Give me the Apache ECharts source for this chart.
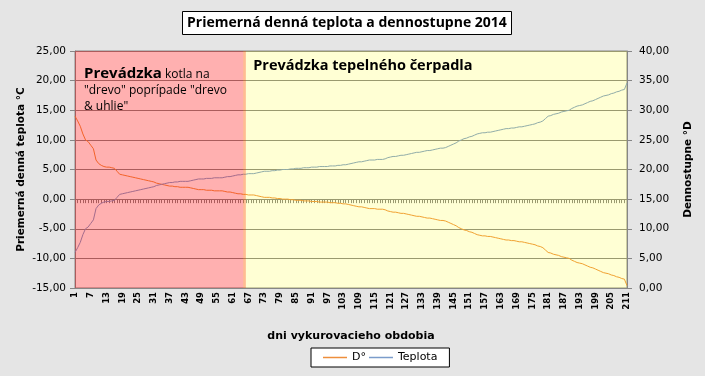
<!DOCTYPE html>
<html>
<head>
<meta charset="utf-8">
<script src="https://cdn.jsdelivr.net/npm/echarts@6/dist/echarts.min.js"></script>
<style>
  html, body { margin: 0; padding: 0; background: #e5e5e5; }
  #chart { width: 705px; height: 376px; }
</style>
</head>
<body>
<div id="chart"></div>
<script>
// dni vykurovacieho obdobia 1..211
const days = Array.from({ length: 211 }, (_, i) => String(i + 1));

// priemerna denna teplota (zoradena), lava os
const teplota = [
  -9.0, -8.2, -7.3, -6.0, -5.0, -4.7, -4.1, -3.5, -1.6, -1.0,
  -0.7, -0.5, -0.4, -0.4, -0.3, -0.2, 0.3, 0.8, 0.9, 1.0,
  1.1, 1.2, 1.3, 1.4, 1.5, 1.6, 1.7, 1.8, 1.9, 2.0,
  2.1, 2.3, 2.4, 2.5, 2.6, 2.7, 2.8, 2.8, 2.9, 2.9,
  3.0, 3.0, 3.0, 3.0, 3.1, 3.2, 3.3, 3.4, 3.4, 3.4,
  3.5, 3.5, 3.5, 3.6, 3.6, 3.6, 3.6, 3.7, 3.8, 3.8,
  3.9, 4.0, 4.1, 4.1, 4.2, 4.2, 4.3, 4.3, 4.3, 4.4,
  4.5, 4.6, 4.7, 4.7, 4.7, 4.8, 4.8, 4.9, 4.9, 5.0,
  5.0, 5.0, 5.1, 5.1, 5.2, 5.2, 5.2, 5.3, 5.3, 5.3,
  5.4, 5.4, 5.4, 5.5, 5.5, 5.5, 5.5, 5.6, 5.6, 5.6,
  5.7, 5.7, 5.8, 5.8, 5.9, 6.0, 6.1, 6.2, 6.3, 6.3,
  6.4, 6.5, 6.6, 6.6, 6.6, 6.7, 6.7, 6.7, 6.8, 7.0,
  7.1, 7.2, 7.2, 7.3, 7.4, 7.4, 7.5, 7.6, 7.7, 7.8,
  7.9, 7.9, 8.0, 8.1, 8.2, 8.2, 8.3, 8.4, 8.5, 8.6,
  8.6, 8.7, 8.9, 9.1, 9.3, 9.5, 9.8, 10.0, 10.2, 10.3,
  10.5, 10.6, 10.8, 11.0, 11.1, 11.2, 11.2, 11.3, 11.3, 11.4,
  11.5, 11.6, 11.7, 11.8, 11.9, 11.9, 12.0, 12.0, 12.1, 12.2,
  12.2, 12.3, 12.4, 12.5, 12.6, 12.7, 12.9, 13.0, 13.2, 13.6,
  14.0, 14.1, 14.3, 14.4, 14.5, 14.7, 14.8, 14.9, 15.0, 15.3,
  15.5, 15.7, 15.8, 15.9, 16.1, 16.3, 16.5, 16.6, 16.8, 17.0,
  17.2, 17.4, 17.5, 17.6, 17.8, 17.9, 18.1, 18.2, 18.4, 18.5,
  19.6
];

// dennostupne, prava os
const dennostupne = [
  29.0, 28.2, 27.3, 26.0, 25.0, 24.7, 24.1, 23.5, 21.6, 21.0,
  20.7, 20.5, 20.4, 20.4, 20.3, 20.2, 19.7, 19.2, 19.1, 19.0,
  18.9, 18.8, 18.7, 18.6, 18.5, 18.4, 18.3, 18.2, 18.1, 18.0,
  17.9, 17.7, 17.6, 17.5, 17.4, 17.3, 17.2, 17.2, 17.1, 17.1,
  17.0, 17.0, 17.0, 17.0, 16.9, 16.8, 16.7, 16.6, 16.6, 16.6,
  16.5, 16.5, 16.5, 16.4, 16.4, 16.4, 16.4, 16.3, 16.2, 16.2,
  16.1, 16.0, 15.9, 15.9, 15.8, 15.8, 15.7, 15.7, 15.7, 15.6,
  15.5, 15.4, 15.3, 15.3, 15.3, 15.2, 15.2, 15.1, 15.1, 15.0,
  15.0, 15.0, 14.9, 14.9, 14.8, 14.8, 14.8, 14.7, 14.7, 14.7,
  14.6, 14.6, 14.6, 14.5, 14.5, 14.5, 14.5, 14.4, 14.4, 14.4,
  14.3, 14.3, 14.2, 14.2, 14.1, 14.0, 13.9, 13.8, 13.7, 13.7,
  13.6, 13.5, 13.4, 13.4, 13.4, 13.3, 13.3, 13.3, 13.2, 13.0,
  12.9, 12.8, 12.8, 12.7, 12.6, 12.6, 12.5, 12.4, 12.3, 12.2,
  12.1, 12.1, 12.0, 11.9, 11.8, 11.8, 11.7, 11.6, 11.5, 11.4,
  11.4, 11.3, 11.1, 10.9, 10.7, 10.5, 10.2, 10.0, 9.8, 9.7,
  9.5, 9.4, 9.2, 9.0, 8.9, 8.8, 8.8, 8.7, 8.7, 8.6,
  8.5, 8.4, 8.3, 8.2, 8.1, 8.1, 8.0, 8.0, 7.9, 7.8,
  7.8, 7.7, 7.6, 7.5, 7.4, 7.3, 7.1, 7.0, 6.8, 6.4,
  6.0, 5.9, 5.7, 5.6, 5.5, 5.3, 5.2, 5.1, 5.0, 4.7,
  4.5, 4.3, 4.2, 4.1, 3.9, 3.7, 3.5, 3.4, 3.2, 3.0,
  2.8, 2.6, 2.5, 2.4, 2.2, 2.1, 1.9, 1.8, 1.6, 1.5,
  0.4
];

// obdobia prevadzky (od dna / do dna)
const kotol = ['1', '66'];
const cerpadlo = ['65', '211'];
const tMin = -15, tMax = 25;

const fmt = v => v.toFixed(2).replace('.', ',');
const grey = '#868686';

const chart = echarts.init(document.getElementById('chart'));

chart.setOption({
  backgroundColor: '#e5e5e5',
  animation: false,
  textStyle: { fontFamily: 'DejaVu Sans' },
  title: {
    text: 'Priemerná denná teplota a dennostupne 2014',
    left: 182,
    top: 11,
    padding: [5, 5, 5, 5],
    backgroundColor: '#fff',
    borderColor: '#000',
    borderWidth: 1,
    textStyle: { fontFamily: 'Open Sans', fontSize: 14, fontWeight: 'bold', color: '#000' }
  },
  legend: {
    data: ['D°', 'Teplota'],
    left: 311,
    top: 348,
    padding: [4, 12, 4, 12],
    backgroundColor: '#fff',
    borderColor: '#000',
    borderWidth: 1,
    icon: 'rect',
    itemWidth: 24,
    itemHeight: 1.5,
    itemGap: 3,
    textStyle: { fontSize: 11, color: '#000' }
  },
  grid: {
    left: 75, right: 78, top: 51, bottom: 88,
    show: true, backgroundColor: '#fff', borderColor: grey, borderWidth: 1
  },
  xAxis: {
    type: 'category',
    data: days,
    boundaryGap: false,
    name: 'dni vykurovacieho obdobia',
    nameLocation: 'middle',
    nameGap: 43,
    nameTextStyle: { fontSize: 11, fontWeight: 'bold', color: '#000' },
    axisLine: { lineStyle: { color: grey } },
    axisTick: { show: true, interval: 0, length: 4, lineStyle: { color: grey } },
    axisLabel: { interval: 5, rotate: 90, fontSize: 8.5, fontWeight: 'bold', color: '#000', margin: 4 },
    splitLine: { show: false }
  },
  yAxis: [
    {
      type: 'value',
      min: tMin, max: tMax, interval: 5,
      name: 'Priemerná denná teplota °C',
      nameLocation: 'middle',
      nameRotate: 90,
      nameGap: 48,
      nameMoveOverlap: false,
      nameTextStyle: { fontSize: 10.5, fontWeight: 'bold', color: '#000' },
      axisLine: { show: true, lineStyle: { color: grey } },
      axisTick: { show: true, length: 5, lineStyle: { color: grey } },
      axisLabel: { formatter: fmt, fontSize: 10.5, color: '#000', margin: 9 },
      splitLine: { show: true, lineStyle: { color: grey, width: 1 } }
    },
    {
      type: 'value',
      min: 0, max: 40, interval: 5,
      name: 'Dennostupne °D',
      nameLocation: 'middle',
      nameRotate: 90,
      nameGap: 56,
      nameTextStyle: { fontSize: 10.5, fontWeight: 'bold', color: '#000' },
      axisLine: { show: true, lineStyle: { color: grey } },
      axisTick: { show: true, length: 5, lineStyle: { color: grey } },
      axisLabel: { formatter: fmt, fontSize: 10.5, color: '#000', margin: 12 },
      splitLine: { show: false }
    }
  ],
  series: [
    {
      name: 'D°',
      type: 'line',
      yAxisIndex: 1,
      data: dennostupne,
      symbol: 'none',
      z: 3,
      lineStyle: { color: '#ee8f3c', width: 1 },
      itemStyle: { color: '#ee8f3c' }
    },
    {
      name: 'Teplota',
      type: 'line',
      yAxisIndex: 0,
      data: teplota,
      symbol: 'none',
      z: 3,
      lineStyle: { color: '#7b9ccb', width: 1 },
      itemStyle: { color: '#7b9ccb' }
    },
    {
      // polopriesvitne plochy prevadzky (prekryvaju graf ako v Exceli)
      name: 'prevadzka',
      type: 'line',
      yAxisIndex: 0,
      data: [],
      z: 10,
      silent: true,
      markArea: {
        z: 10,
        silent: true,
        data: [
          [
            {
              xAxis: kotol[0],
              yAxis: tMax,
              itemStyle: { color: 'rgba(255,0,0,0.31)' },
              label: {
                show: true,
                position: 'insideTopLeft',
                distance: 6,
                offset: [3, 3],
                color: '#000',
                fontFamily: 'Open Sans',
                formatter: '{b|Prevádzka} {n|kotla na}\n{n|"drevo" poprípade "drevo}\n{n|& uhlie"}',
                rich: {
                  b: { fontFamily: 'Open Sans', fontSize: 15, fontWeight: 'bold', lineHeight: 21, verticalAlign: 'bottom' },
                  n: { fontFamily: 'Open Sans', fontSize: 12, lineHeight: 16, verticalAlign: 'bottom' }
                }
              }
            },
            { xAxis: kotol[1], yAxis: tMin }
          ],
          [
            {
              xAxis: cerpadlo[0],
              yAxis: tMax,
              itemStyle: { color: 'rgba(255,255,0,0.17)' },
              label: {
                show: true,
                position: 'insideTopLeft',
                distance: 6,
                offset: [4, 1],
                color: '#000',
                fontFamily: 'Open Sans',
                fontSize: 14.5,
                fontWeight: 'bold',
                formatter: 'Prevádzka tepelného čerpadla'
              }
            },
            { xAxis: cerpadlo[1], yAxis: tMin }
          ]
        ]
      }
    }
  ]
});
</script>
</body>
</html>
